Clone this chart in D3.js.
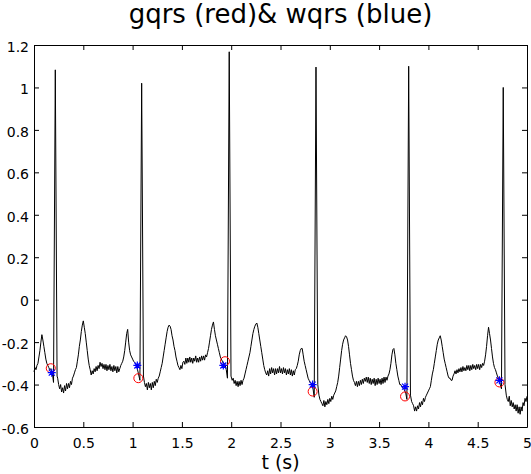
<!DOCTYPE html>
<html>
<head>
<meta charset="utf-8">
<script src="https://cdn.jsdelivr.net/npm/d3@7"></script>
<style>
  body { margin: 0; background: #fff; }
  #chart { width: 531px; height: 474px; }
  text { font-family: "DejaVu Sans", sans-serif; fill: #000; }
</style>
</head>
<body>
<div id="chart"></div>
<script>
// ecg samples [t (s), amplitude]
const ecg = [
  [0.00,-0.34],[0.01,-0.32],[0.02,-0.33],[0.03,-0.31],[0.04,-0.30],[0.05,-0.27],[0.06,-0.24],[0.07,-0.20],
  [0.08,-0.165],[0.09,-0.19],[0.10,-0.22],[0.11,-0.25],[0.12,-0.28],[0.13,-0.30],[0.14,-0.31],[0.15,-0.32],
  [0.16,-0.33],[0.17,-0.325],[0.18,-0.345],[0.19,-0.36],[0.198,-0.39],[0.216,1.083],[0.234,-0.36],
  [0.24,-0.37],[0.25,-0.40],[0.26,-0.42],[0.27,-0.40],[0.28,-0.435],[0.29,-0.415],[0.30,-0.44],[0.31,-0.405],
  [0.32,-0.43],[0.33,-0.395],[0.34,-0.42],[0.35,-0.395],[0.36,-0.415],[0.37,-0.385],[0.38,-0.40],[0.39,-0.37],
  [0.40,-0.36],[0.41,-0.345],[0.42,-0.33],[0.43,-0.32],[0.44,-0.29],[0.45,-0.26],[0.46,-0.22],[0.47,-0.19],
  [0.48,-0.15],[0.49,-0.12],[0.50,-0.10],[0.51,-0.13],[0.52,-0.16],[0.53,-0.20],[0.54,-0.24],[0.55,-0.28],
  [0.56,-0.31],[0.57,-0.33],[0.58,-0.355],[0.59,-0.335],[0.60,-0.35],[0.61,-0.325],[0.62,-0.34],[0.63,-0.315],
  [0.64,-0.335],[0.65,-0.31],[0.66,-0.325],[0.67,-0.295],[0.68,-0.315],[0.69,-0.30],[0.70,-0.325],[0.71,-0.305],
  [0.72,-0.33],[0.73,-0.305],[0.74,-0.335],[0.75,-0.31],[0.76,-0.33],[0.77,-0.305],[0.78,-0.335],[0.79,-0.315],
  [0.80,-0.34],[0.81,-0.31],[0.82,-0.335],[0.83,-0.315],[0.84,-0.345],[0.85,-0.315],[0.86,-0.34],[0.87,-0.325],
  [0.88,-0.31],[0.89,-0.30],[0.90,-0.29],[0.91,-0.27],[0.92,-0.24],[0.93,-0.20],[0.94,-0.16],[0.95,-0.14],
  [0.96,-0.20],[0.97,-0.24],[0.98,-0.26],[0.99,-0.27],[1.00,-0.28],[1.01,-0.29],[1.02,-0.295],[1.03,-0.30],
  [1.04,-0.31],[1.05,-0.33],[1.06,-0.35],[1.074,-0.38],[1.092,1.02],[1.11,-0.36],[1.12,-0.39],[1.13,-0.41],
  [1.14,-0.395],[1.15,-0.425],[1.16,-0.39],[1.17,-0.415],[1.18,-0.395],[1.19,-0.425],[1.20,-0.39],[1.21,-0.415],
  [1.22,-0.385],[1.23,-0.405],[1.24,-0.375],[1.25,-0.39],[1.26,-0.37],[1.27,-0.36],[1.28,-0.34],[1.29,-0.32],
  [1.30,-0.30],[1.31,-0.27],[1.32,-0.24],[1.33,-0.21],[1.34,-0.18],[1.35,-0.15],[1.36,-0.13],[1.37,-0.12],
  [1.38,-0.125],[1.39,-0.14],[1.40,-0.17],[1.41,-0.19],[1.42,-0.22],[1.43,-0.24],[1.44,-0.27],[1.45,-0.29],
  [1.46,-0.31],[1.47,-0.32],[1.48,-0.33],[1.49,-0.31],[1.50,-0.325],[1.51,-0.295],[1.52,-0.29],[1.53,-0.305],
  [1.54,-0.275],[1.55,-0.30],[1.56,-0.275],[1.57,-0.295],[1.58,-0.27],[1.59,-0.295],[1.60,-0.275],[1.61,-0.30],
  [1.62,-0.275],[1.63,-0.29],[1.64,-0.265],[1.65,-0.295],[1.66,-0.275],[1.67,-0.295],[1.68,-0.27],[1.69,-0.29],
  [1.70,-0.265],[1.71,-0.285],[1.72,-0.265],[1.73,-0.285],[1.74,-0.26],[1.75,-0.27],[1.76,-0.25],[1.77,-0.23],
  [1.78,-0.20],[1.79,-0.17],[1.80,-0.14],[1.81,-0.12],[1.82,-0.105],[1.83,-0.14],[1.84,-0.17],[1.85,-0.19],
  [1.86,-0.21],[1.87,-0.23],[1.88,-0.25],[1.89,-0.27],[1.90,-0.28],[1.91,-0.29],[1.92,-0.30],[1.93,-0.30],
  [1.94,-0.31],[1.95,-0.33],[1.962,-0.37],[1.98,1.168],[1.998,-0.36],[2.01,-0.38],[2.02,-0.37],[2.03,-0.395],
  [2.04,-0.38],[2.05,-0.405],[2.06,-0.385],[2.07,-0.41],[2.08,-0.385],[2.09,-0.405],[2.10,-0.38],[2.11,-0.40],
  [2.12,-0.38],[2.13,-0.37],[2.14,-0.35],[2.15,-0.33],[2.16,-0.31],[2.17,-0.29],[2.18,-0.27],[2.19,-0.25],
  [2.20,-0.22],[2.21,-0.19],[2.22,-0.16],[2.23,-0.14],[2.24,-0.125],[2.25,-0.115],[2.26,-0.11],[2.27,-0.13],
  [2.28,-0.16],[2.29,-0.19],[2.30,-0.22],[2.31,-0.25],[2.32,-0.28],[2.33,-0.31],[2.34,-0.33],[2.35,-0.345],
  [2.36,-0.355],[2.37,-0.335],[2.38,-0.36],[2.39,-0.325],[2.40,-0.35],[2.41,-0.32],[2.42,-0.345],[2.43,-0.325],
  [2.44,-0.355],[2.45,-0.325],[2.46,-0.35],[2.47,-0.325],[2.48,-0.345],[2.49,-0.315],[2.50,-0.345],[2.51,-0.325],
  [2.52,-0.35],[2.53,-0.32],[2.54,-0.345],[2.55,-0.325],[2.56,-0.355],[2.57,-0.33],[2.58,-0.35],[2.59,-0.325],
  [2.60,-0.355],[2.61,-0.33],[2.62,-0.36],[2.63,-0.335],[2.64,-0.355],[2.65,-0.33],[2.66,-0.325],[2.67,-0.31],
  [2.68,-0.29],[2.69,-0.26],[2.70,-0.24],[2.71,-0.23],[2.72,-0.23],[2.73,-0.26],[2.74,-0.29],[2.75,-0.31],
  [2.76,-0.33],[2.77,-0.35],[2.78,-0.37],[2.79,-0.38],[2.80,-0.39],[2.81,-0.395],[2.82,-0.40],[2.83,-0.42],
  [2.842,-0.46],[2.86,1.096],[2.878,-0.40],[2.89,-0.45],[2.90,-0.47],[2.91,-0.48],[2.92,-0.49],[2.93,-0.50],
  [2.94,-0.475],[2.95,-0.505],[2.96,-0.48],[2.97,-0.495],[2.98,-0.47],[2.99,-0.49],[3.00,-0.465],[3.01,-0.48],
  [3.02,-0.455],[3.03,-0.47],[3.04,-0.45],[3.05,-0.44],[3.06,-0.43],[3.07,-0.41],[3.08,-0.39],[3.09,-0.36],
  [3.10,-0.32],[3.11,-0.28],[3.12,-0.24],[3.13,-0.21],[3.14,-0.19],[3.15,-0.18],[3.16,-0.17],[3.17,-0.175],
  [3.18,-0.19],[3.19,-0.22],[3.20,-0.26],[3.21,-0.30],[3.22,-0.33],[3.23,-0.36],[3.24,-0.38],[3.25,-0.39],
  [3.26,-0.405],[3.27,-0.385],[3.28,-0.41],[3.29,-0.385],[3.30,-0.405],[3.31,-0.38],[3.32,-0.40],[3.33,-0.375],
  [3.34,-0.395],[3.35,-0.37],[3.36,-0.385],[3.37,-0.365],[3.38,-0.39],[3.39,-0.365],[3.40,-0.395],[3.41,-0.37],
  [3.42,-0.40],[3.43,-0.375],[3.44,-0.395],[3.45,-0.37],[3.46,-0.405],[3.47,-0.375],[3.48,-0.40],[3.49,-0.37],
  [3.50,-0.395],[3.51,-0.375],[3.52,-0.40],[3.53,-0.37],[3.54,-0.395],[3.55,-0.365],[3.56,-0.39],[3.57,-0.365],
  [3.58,-0.38],[3.59,-0.36],[3.60,-0.35],[3.61,-0.33],[3.62,-0.30],[3.63,-0.26],[3.64,-0.235],[3.65,-0.23],
  [3.66,-0.26],[3.67,-0.30],[3.68,-0.33],[3.69,-0.36],[3.70,-0.38],[3.71,-0.40],[3.72,-0.40],[3.73,-0.41],
  [3.74,-0.415],[3.75,-0.42],[3.76,-0.43],[3.77,-0.44],[3.782,-0.47],[3.80,1.10],[3.818,-0.45],[3.83,-0.48],
  [3.84,-0.49],[3.85,-0.50],[3.86,-0.525],[3.87,-0.505],[3.88,-0.525],[3.89,-0.50],[3.90,-0.515],[3.91,-0.485],
  [3.92,-0.505],[3.93,-0.48],[3.94,-0.495],[3.95,-0.465],[3.96,-0.48],[3.97,-0.46],[3.98,-0.45],[3.99,-0.44],
  [4.00,-0.43],[4.01,-0.42],[4.02,-0.41],[4.03,-0.38],[4.04,-0.35],[4.05,-0.33],[4.06,-0.30],[4.07,-0.27],
  [4.08,-0.24],[4.09,-0.21],[4.10,-0.19],[4.11,-0.18],[4.12,-0.17],[4.13,-0.19],[4.14,-0.22],[4.15,-0.25],
  [4.16,-0.28],[4.17,-0.30],[4.18,-0.32],[4.19,-0.34],[4.20,-0.36],[4.21,-0.37],[4.22,-0.37],[4.23,-0.38],
  [4.24,-0.38],[4.25,-0.36],[4.26,-0.35],[4.27,-0.335],[4.28,-0.35],[4.29,-0.33],[4.30,-0.345],[4.31,-0.325],
  [4.32,-0.34],[4.33,-0.32],[4.34,-0.34],[4.35,-0.315],[4.36,-0.335],[4.37,-0.32],[4.38,-0.335],[4.39,-0.31],
  [4.40,-0.33],[4.41,-0.31],[4.42,-0.335],[4.43,-0.31],[4.44,-0.33],[4.45,-0.305],[4.46,-0.325],[4.47,-0.31],
  [4.48,-0.33],[4.49,-0.305],[4.50,-0.325],[4.51,-0.305],[4.52,-0.33],[4.53,-0.305],[4.54,-0.32],[4.55,-0.30],
  [4.56,-0.31],[4.57,-0.29],[4.58,-0.26],[4.59,-0.22],[4.60,-0.17],[4.61,-0.13],[4.62,-0.16],[4.63,-0.19],
  [4.64,-0.23],[4.65,-0.27],[4.66,-0.30],[4.67,-0.32],[4.68,-0.33],[4.69,-0.345],[4.70,-0.36],[4.71,-0.37],
  [4.72,-0.38],[4.73,-0.40],[4.741,-0.42],[4.759,1.00],[4.777,-0.40],[4.79,-0.45],[4.80,-0.47],[4.81,-0.48],
  [4.82,-0.455],[4.83,-0.50],[4.84,-0.475],[4.85,-0.505],[4.86,-0.485],[4.87,-0.515],[4.88,-0.495],[4.89,-0.525],
  [4.90,-0.495],[4.91,-0.535],[4.92,-0.505],[4.93,-0.54],[4.94,-0.505],[4.95,-0.525],[4.96,-0.485],[4.97,-0.50],
  [4.98,-0.465],[4.99,-0.48],[5.00,-0.455]
];

// detector annotations
const gqrsT = [0.17, 1.058, 1.937, 2.826, 3.763, 4.72];
const gqrsV = [-0.323, -0.37, -0.29, -0.433, -0.456, -0.39];
const wqrsT = [0.18, 1.048, 1.92, 2.826, 3.763, 4.72];
const wqrsV = [-0.344, -0.31, -0.31, -0.40, -0.41, -0.38];

const xTicks = [0, 0.5, 1, 1.5, 2, 2.5, 3, 3.5, 4, 4.5, 5];
const xTickLabels = ['0', '0.5', '1', '1.5', '2', '2.5', '3', '3.5', '4', '4.5', '5'];
const yTicks = [-0.6, -0.4, -0.2, 0, 0.2, 0.4, 0.6, 0.8, 1, 1.2];
const yTickLabels = ['-0.6', '-0.4', '-0.2', '0', '0.2', '0.4', '0.6', '0.8', '1', '1.2'];

const margin = { top: 45, right: 4, bottom: 47, left: 34 };
const W = 531, H = 474;
const width = W - margin.left - margin.right;
const height = H - margin.top - margin.bottom;

const root = d3.select('#chart').append('svg')
  .attr('width', W)
  .attr('height', H);

root.append('text')
  .attr('x', margin.left + width / 2)
  .attr('y', 23)
  .attr('text-anchor', 'middle')
  .style('font-size', '26px')
  .text('gqrs (red)& wqrs (blue)');

const svg = root.append('g')
  .attr('transform', `translate(${margin.left},${margin.top})`);

const x = d3.scaleLinear().domain([0, 5]).range([0, width]);
const y = d3.scaleLinear().domain([-0.6, 1.2]).range([height, 0]);

const line = d3.line()
  .x(d => x(d[0]))
  .y(d => y(d[1]));

svg.append('path')
  .datum(ecg)
  .attr('fill', 'none')
  .attr('stroke', '#000')
  .attr('stroke-width', 1)
  .attr('stroke-linejoin', 'round')
  .attr('d', line);

// gqrs: red circles
svg.selectAll('.gqrs')
  .data(gqrsT.map((t, i) => [t, gqrsV[i]]))
  .enter().append('circle')
  .attr('class', 'gqrs')
  .attr('cx', d => x(d[0]))
  .attr('cy', d => y(d[1]))
  .attr('r', 4.5)
  .attr('fill', 'none')
  .attr('stroke', '#ff0000')
  .attr('stroke-width', 1);

// wqrs: blue asterisks
svg.selectAll('.wqrs')
  .data(wqrsT.map((t, i) => [t, wqrsV[i]]))
  .enter().append('path')
  .attr('class', 'wqrs')
  .attr('transform', d => `translate(${x(d[0])},${y(d[1])})`)
  .attr('d', 'M-4,0H4M0,-4V4M-3,-3L3,3M-3,3L3,-3')
  .attr('fill', 'none')
  .attr('stroke', '#0000ff')
  .attr('stroke-width', 1.2);

// box axes, ticks pointing in
svg.append('g')
  .attr('transform', `translate(0,${height})`)
  .call(d3.axisBottom(x).tickValues(xTicks)
    .tickFormat((d, i) => xTickLabels[i])
    .tickSizeInner(-5).tickSizeOuter(0).tickPadding(11));

svg.append('g')
  .attr('class', 'y-left')
  .call(d3.axisLeft(y).tickValues(yTicks)
    .tickFormat((d, i) => yTickLabels[i])
    .tickSizeInner(-5).tickSizeOuter(0).tickPadding(5));

svg.append('g')
  .call(d3.axisTop(x).tickValues(xTicks).tickFormat('')
    .tickSizeInner(-5).tickSizeOuter(0));

svg.append('g')
  .attr('transform', `translate(${width},0)`)
  .call(d3.axisRight(y).tickValues(yTicks).tickFormat('')
    .tickSizeInner(-5).tickSizeOuter(0));

svg.selectAll('.tick text')
  .style('font-family', '"DejaVu Sans", sans-serif')
  .style('font-size', '14px')
  .attr('fill', '#000');

svg.selectAll('.y-left .tick text').attr('dy', '0.45em');

svg.selectAll('.domain, .tick line').attr('stroke', '#000');

svg.append('text')
  .attr('x', width / 2)
  .attr('y', height + 42)
  .attr('text-anchor', 'middle')
  .style('font-size', '19px')
  .text('t (s)');
</script>
</body>
</html>
